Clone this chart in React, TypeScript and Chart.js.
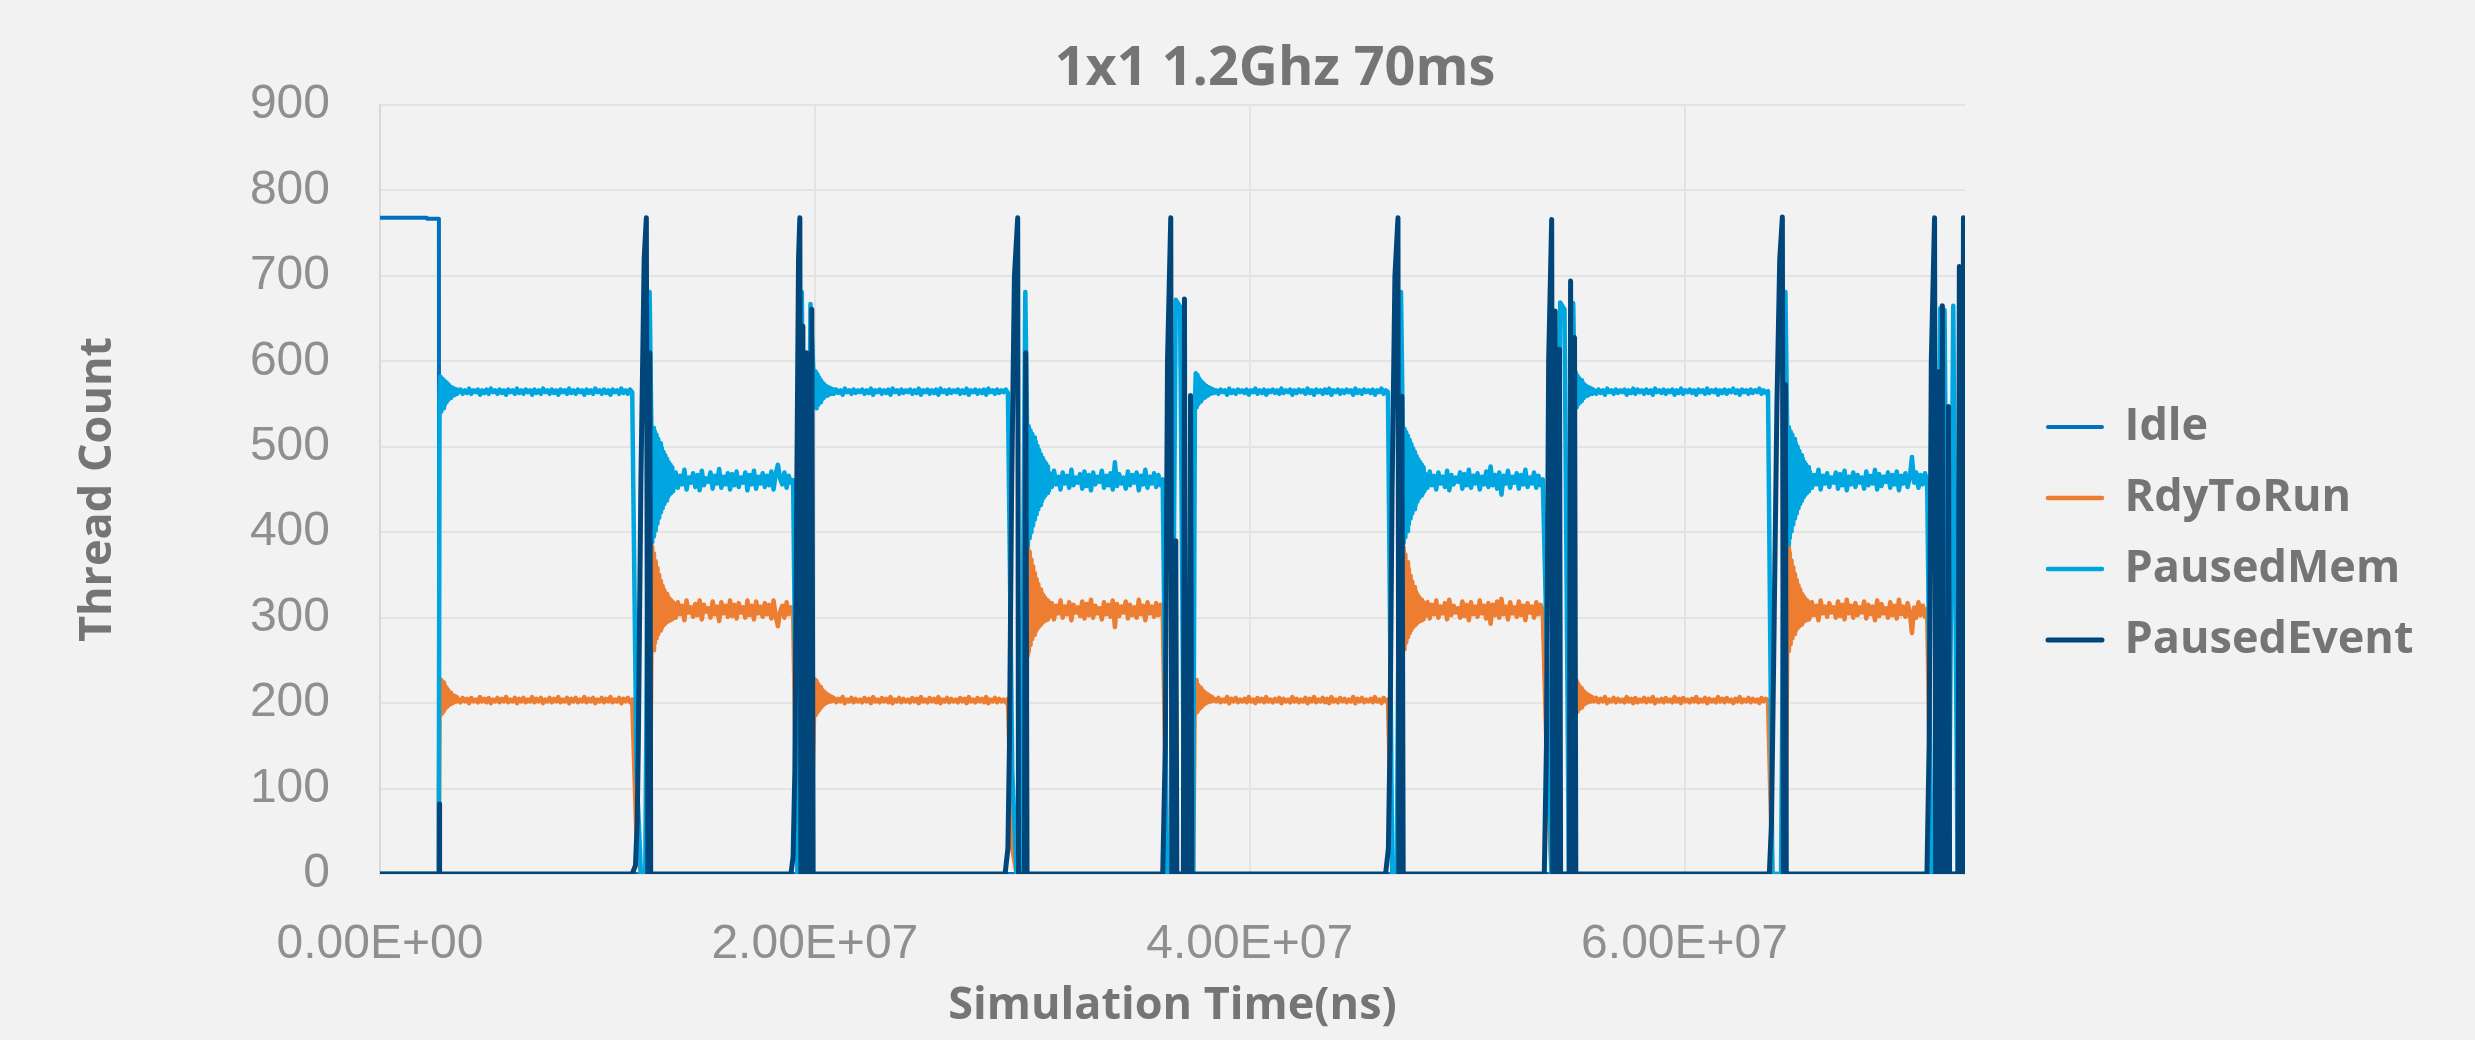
import React, { useEffect, useRef } from 'react';
import { Chart, registerables } from 'chart.js';

Chart.register(...registerables);

// ---------- text ----------
const CHART_TITLE = '1x1 1.2Ghz 70ms';
const X_TITLE = 'Simulation Time(ns)';
const Y_TITLE = 'Thread Count';
const SERIES_NAMES = ['Idle', 'RdyToRun', 'PausedMem', 'PausedEvent'];
const SERIES_COLORS = ['#0070C0', '#ED7D31', '#00A6DF', '#00467A'];

// ---------- axes ----------
const X_TICK_VALUES = [0, 2e7, 4e7, 6e7];
const X_TICK_LABELS = ['0.00E+00', '2.00E+07', '4.00E+07', '6.00E+07'];
const X_MAX_NS = 7.29e7;
const Y_MIN = 0;
const Y_MAX = 900;
const Y_STEP = 100;

// ---------- data ----------
// Sampled segments: [start time (ms), sample step (ms), values]
type Segment = [number, number, number[]];

const pausedMemSegments: Segment[] = [
  [0, 0.2, [0, 0, 0, 0, 0, 0, 0, 0, 0, 0, 0, 0, 0, 0]],
  [2.7, 0.04, [0, 560, 582, 541, 580, 545, 578, 549, 576, 552, 574, 555, 572, 557, 570, 559, 569, 560, 568, 561, 567, 562]],
  [3.6, 0.1, [
    564, 567, 562, 566, 563, 568, 562, 566, 564, 567,
    561, 566, 563, 567, 562, 568, 564, 566, 562, 567,
    563, 566, 561, 567, 564, 566, 562, 568, 563, 566,
    562, 567, 564, 566, 561, 567, 563, 566, 562, 568,
    564, 566, 562, 567, 563, 566, 561, 567, 564, 566,
    562, 568, 563, 566, 562, 567, 564, 566, 561, 567,
    563, 566, 562, 568, 564, 566, 562, 567, 563, 566,
    561, 567, 564, 566, 562, 568, 563, 566, 562, 567,
    564]],
  [11.8, 0.2, [120, 0, 0, 681]],
  [12.48, 0.04, [525, 388, 522, 395, 518, 402, 514, 410, 509, 417, 504, 423, 499, 428, 494, 433, 490, 437, 486, 441, 482, 444, 479, 446, 476, 448]],
  [13.6, 0.1, [
    470, 452, 466, 456, 473, 450, 464, 458, 469, 453,
    467, 449, 472, 455, 463, 459, 470, 451, 466, 457,
    474, 452, 465, 456, 469, 450, 468, 455, 471, 453,
    464, 458, 470, 449, 467, 456, 472, 451, 465, 457,
    469, 453, 466, 455, 471, 450, 468, 479, 463, 456,
    470, 452, 466, 458, 461]],
  [19.2, 0.2, [0, 681, 0, 667]],
  [20.0, 0.04, [548, 588, 545, 585, 549, 581, 552, 578, 555, 575, 557, 573, 559, 571, 560, 570, 561, 569, 562, 568, 562, 567]],
  [20.88, 0.1, [
    562, 567, 563, 566, 561, 568, 564, 566, 562, 567,
    563, 566, 564, 567, 562, 566, 563, 568, 561, 566,
    564, 567, 562, 566, 563, 567, 561, 568, 564, 566,
    562, 567, 563, 566, 564, 567, 562, 566, 563, 568,
    561, 566, 564, 567, 562, 566, 563, 567, 561, 568,
    564, 566, 562, 567, 563, 566, 564, 567, 562, 566,
    563, 568, 561, 566, 564, 567, 562, 566, 563, 567,
    561, 568, 564, 566, 562, 567, 563, 566, 564, 567,
    563]],
  [29.08, 0.2, [120, 0, 0, 681]],
  [29.76, 0.04, [522, 385, 524, 393, 519, 400, 515, 408, 511, 415, 506, 421, 501, 427, 496, 432, 491, 436, 487, 440, 483, 443, 480, 446, 477, 448]],
  [30.8, 0.1, [
    469, 453, 472, 456, 465, 450, 470, 457, 466, 452,
    473, 455, 464, 458, 468, 451, 471, 454, 467, 449,
    470, 456, 465, 459, 472, 452, 466, 455, 469, 450,
    482, 454, 468, 457, 464, 451, 471, 455, 467, 458,
    470, 449, 466, 456, 473, 452, 465, 457, 469, 453,
    467, 455, 462]],
  [36.2, 0.2, [0, 0, 672, 664, 0, 0, 0]],
  [37.48, 0.04, [550, 586, 546, 584, 550, 580, 553, 577, 555, 575, 557, 573, 558, 571, 560, 570, 561, 569, 562, 568, 563, 567]],
  [38.36, 0.1, [
    563, 566, 562, 567, 564, 566, 561, 568, 563, 566,
    562, 567, 564, 566, 563, 567, 561, 566, 564, 568,
    562, 566, 563, 567, 561, 566, 564, 567, 563, 566,
    562, 568, 563, 566, 564, 567, 561, 566, 563, 567,
    564, 566, 562, 568, 563, 566, 561, 567, 564, 566,
    562, 567, 563, 568, 561, 566, 564, 567, 562, 566,
    563, 567, 564, 566, 561, 568, 563, 566, 562, 567,
    564, 566, 563, 567, 561, 566, 564, 568, 562, 566,
    564]],
  [46.56, 0.2, [0, 0, 681]],
  [47.04, 0.04, [524, 387, 521, 394, 517, 401, 513, 409, 508, 416, 503, 422, 498, 427, 494, 432, 489, 436, 485, 440, 482, 443, 479, 445, 476, 448]],
  [48.08, 0.1, [
    468, 452, 471, 455, 466, 450, 470, 457, 465, 453,
    472, 449, 467, 456, 464, 459, 470, 451, 468, 455,
    473, 452, 466, 457, 469, 450, 465, 456, 471, 453,
    477, 455, 467, 451, 470, 444, 466, 457, 472, 452,
    465, 458, 469, 451, 467, 456, 473, 453, 464, 457,
    470, 452, 466, 455, 462]],
  [53.68, 0.2, [250, 0, 0, 669, 661, 0, 668]],
  [54.96, 0.04, [547, 587, 546, 583, 550, 580, 552, 578, 554, 575, 557, 573, 559, 571, 560, 570, 561, 569, 562, 568, 562, 567]],
  [55.84, 0.1, [
    566, 562, 567, 563, 566, 561, 568, 564, 566, 562,
    567, 563, 566, 564, 567, 561, 566, 563, 568, 562,
    567, 564, 566, 562, 567, 563, 566, 561, 568, 564,
    566, 563, 567, 562, 566, 564, 567, 561, 566, 563,
    568, 562, 566, 564, 567, 563, 566, 561, 567, 564,
    566, 562, 568, 563, 566, 564, 567, 561, 566, 563,
    567, 562, 566, 564, 568, 563, 566, 561, 567, 564,
    566, 562, 567, 563, 566, 564, 568, 562, 566, 563,
    565]],
  [64.04, 0.2, [0, 0, 0, 681]],
  [64.72, 0.04, [523, 386, 523, 393, 518, 401, 514, 409, 509, 416, 504, 422, 500, 428, 495, 433, 490, 437, 486, 441, 482, 444, 479, 446, 476, 448]],
  [65.76, 0.1, [
    471, 452, 467, 456, 473, 450, 466, 457, 469, 453,
    464, 458, 470, 451, 468, 455, 472, 449, 465, 456,
    470, 453, 467, 458, 464, 451, 471, 455, 466, 457,
    473, 450, 468, 454, 465, 459, 470, 452, 467, 456,
    471, 449, 466, 457, 469, 453, 464, 488, 458, 470,
    452, 467, 456, 469, 460]],
  [71.36, 0.2, [0, 0, 662, 660, 0, 665, 0, 0, 0]],
];

const rdyToRunSegments: Segment[] = [
  [0, 0.2, [0, 0, 0, 0, 0, 0, 0, 0, 0, 0, 0, 0, 0, 0]],
  [2.7, 0.04, [0, 208, 186, 227, 188, 224, 191, 221, 194, 218, 196, 215, 198, 212, 199, 210, 200, 209, 201, 208, 202, 207]],
  [3.6, 0.1, [
    204, 201, 206, 202, 205, 200, 206, 202, 204, 201,
    207, 202, 205, 201, 206, 200, 204, 202, 206, 201,
    205, 202, 207, 201, 204, 202, 206, 200, 205, 202,
    206, 201, 204, 202, 207, 201, 205, 202, 206, 200,
    204, 202, 206, 201, 205, 202, 207, 201, 204, 202,
    206, 200, 205, 202, 206, 201, 204, 202, 207, 201,
    205, 202, 206, 200, 204, 202, 206, 201, 205, 202,
    207, 201, 204, 202, 206, 200, 205, 202, 206, 201,
    204]],
  [11.8, 0.2, [40, 0, 0, 0]],
  [12.48, 0.04, [254, 383, 262, 375, 270, 366, 276, 358, 281, 350, 285, 343, 288, 337, 291, 332, 293, 328, 295, 325, 296, 322, 297, 320, 298, 318]],
  [13.6, 0.1, [
    300, 318, 304, 314, 297, 320, 306, 312, 301, 316,
    303, 320, 298, 315, 307, 311, 300, 319, 304, 313,
    296, 318, 305, 314, 301, 320, 302, 315, 299, 317,
    306, 312, 300, 320, 303, 314, 298, 319, 305, 313,
    301, 317, 304, 315, 299, 320, 302, 290, 307, 314,
    300, 318, 304, 312, 309]],
  [19.2, 0.2, [0, 0, 0, 0]],
  [20.0, 0.04, [228, 186, 226, 189, 222, 192, 219, 195, 216, 197, 214, 199, 212, 200, 210, 201, 209, 202, 208, 202, 207, 203]],
  [20.88, 0.1, [
    206, 201, 205, 202, 207, 200, 204, 202, 206, 201,
    205, 202, 204, 201, 206, 202, 205, 200, 207, 202,
    204, 201, 206, 202, 205, 201, 207, 200, 204, 202,
    206, 201, 205, 202, 204, 201, 206, 202, 205, 200,
    207, 202, 204, 201, 206, 202, 205, 201, 207, 200,
    204, 202, 206, 201, 205, 202, 204, 201, 206, 202,
    205, 200, 207, 202, 204, 201, 206, 202, 205, 201,
    207, 200, 204, 202, 206, 201, 205, 202, 204, 201,
    205]],
  [29.08, 0.2, [30, 0, 0, 0]],
  [29.76, 0.04, [256, 385, 260, 377, 268, 368, 275, 360, 280, 352, 284, 345, 287, 339, 290, 333, 292, 329, 294, 326, 296, 323, 297, 320, 298, 318]],
  [30.8, 0.1, [
    301, 317, 298, 314, 305, 320, 300, 313, 304, 318,
    297, 315, 306, 312, 302, 319, 299, 316, 303, 321,
    300, 314, 305, 311, 298, 318, 304, 315, 301, 320,
    289, 316, 302, 313, 306, 319, 299, 315, 303, 312,
    300, 321, 304, 314, 297, 318, 305, 313, 301, 317,
    303, 315, 308]],
  [36.2, 0.2, [0, 0, 0, 0, 0, 0, 0]],
  [37.48, 0.04, [226, 188, 227, 190, 221, 193, 218, 195, 216, 197, 214, 199, 212, 200, 210, 201, 209, 202, 208, 202, 207, 203]],
  [38.36, 0.1, [
    205, 202, 206, 201, 204, 202, 207, 200, 205, 202,
    206, 201, 204, 202, 205, 201, 207, 202, 204, 200,
    206, 202, 205, 201, 207, 202, 204, 201, 205, 202,
    206, 200, 205, 202, 204, 201, 207, 202, 205, 201,
    204, 202, 206, 200, 205, 202, 207, 201, 204, 202,
    206, 201, 205, 200, 207, 202, 204, 201, 206, 202,
    205, 201, 204, 202, 207, 200, 205, 202, 206, 201,
    204, 202, 205, 201, 207, 202, 204, 200, 206, 202,
    204]],
  [46.56, 0.2, [0, 0, 0]],
  [47.04, 0.04, [255, 382, 263, 374, 271, 365, 277, 357, 282, 349, 286, 342, 289, 336, 291, 331, 293, 327, 295, 324, 296, 321, 297, 319, 298, 317]],
  [48.08, 0.1, [
    302, 318, 299, 315, 304, 320, 300, 313, 305, 317,
    298, 321, 303, 314, 306, 311, 300, 319, 302, 315,
    297, 318, 304, 313, 301, 320, 305, 314, 299, 317,
    293, 315, 303, 319, 300, 322, 304, 313, 298, 318,
    305, 312, 301, 319, 303, 314, 297, 317, 306, 313,
    300, 318, 304, 315, 308]],
  [53.68, 0.2, [120, 0, 0, 0, 0, 0, 0]],
  [54.96, 0.04, [227, 187, 226, 190, 222, 193, 219, 195, 217, 197, 214, 199, 212, 200, 210, 201, 209, 202, 208, 202, 207, 203]],
  [55.84, 0.1, [
    202, 206, 201, 205, 202, 207, 200, 204, 202, 206,
    201, 205, 202, 204, 201, 207, 202, 205, 200, 206,
    201, 204, 202, 206, 201, 205, 202, 207, 200, 204,
    202, 205, 201, 206, 202, 204, 201, 207, 202, 205,
    200, 206, 202, 204, 201, 205, 202, 207, 201, 204,
    202, 206, 200, 205, 202, 204, 201, 207, 202, 205,
    201, 206, 202, 204, 200, 205, 202, 207, 201, 204,
    202, 206, 201, 205, 202, 204, 200, 206, 202, 205,
    203]],
  [64.04, 0.2, [0, 0, 0, 0]],
  [64.72, 0.04, [257, 384, 261, 376, 269, 367, 276, 359, 281, 351, 285, 344, 288, 338, 290, 333, 292, 328, 294, 325, 296, 322, 297, 320, 298, 318]],
  [65.76, 0.1, [
    300, 318, 303, 314, 297, 320, 305, 313, 301, 317,
    306, 312, 300, 319, 302, 315, 298, 321, 305, 314,
    300, 317, 303, 312, 306, 319, 299, 315, 304, 313,
    297, 320, 302, 316, 305, 311, 300, 318, 303, 314,
    299, 321, 304, 313, 301, 317, 306, 282, 312, 300,
    318, 303, 314, 301, 310]],
  [71.36, 0.2, [0, 0, 0, 0, 0, 0, 0, 0, 0]],
];

const idleTimeMs = [0, 2.16, 2.17, 2.71, 2.72, 73.0];
const idleValues = [768, 768, 767, 767, 0, 0];

const pausedEventTimeMs = [
  0, 2.72, 2.73, 2.75,
  11.6, 11.75, 11.83, 11.88, 12.0, 12.15, 12.25, 12.32, 12.37, 12.41, 12.45,
  18.9, 19.0, 19.08, 19.17, 19.25, 19.31, 19.36, 19.41, 19.45, 19.5, 19.58, 19.63, 19.68, 19.81, 19.86, 19.92,
  28.75, 28.88, 28.95, 29.05, 29.18, 29.33, 29.37, 29.64, 29.7, 29.76,
  36.0, 36.12, 36.22, 36.37, 36.42, 36.55, 36.6, 36.65, 36.95, 37.0, 37.05, 37.22, 37.28, 37.34,
  46.25, 46.38, 46.45, 46.55, 46.68, 46.82, 46.86, 46.94, 47.0, 47.06,
  53.55, 53.65, 53.75, 53.89, 53.94, 54.0, 54.05, 54.1, 54.2, 54.25, 54.3, 54.7, 54.76, 54.82, 54.88, 54.94, 55.0,
  63.9, 64.0, 64.1, 64.25, 64.38, 64.5, 64.55, 64.6, 64.64, 64.68,
  71.15, 71.25, 71.35, 71.5, 71.55, 71.67, 71.72, 71.76, 71.82, 71.86, 71.9, 72.09, 72.14, 72.19, 72.58, 72.64, 72.69, 72.77, 72.83, 72.88, 73.0,
];
const pausedEventValues = [
  0, 0, 82, 0,
  0, 10, 60, 150, 460, 720, 768, 0, 0, 610, 0,
  0, 20, 120, 450, 720, 768, 0, 0, 641, 0, 0, 610, 0, 0, 661, 0,
  0, 30, 150, 450, 700, 768, 0, 0, 610, 0,
  0, 150, 600, 768, 0, 0, 390, 0, 0, 673, 0, 0, 560, 0,
  0, 30, 150, 450, 700, 768, 0, 0, 559, 0,
  0, 150, 600, 766, 0, 0, 659, 0, 0, 614, 0, 0, 694, 0, 0, 628, 0,
  0, 60, 250, 550, 720, 769, 0, 0, 573, 0,
  0, 150, 600, 768, 0, 0, 588, 0, 0, 665, 0, 0, 547, 0, 0, 711, 0, 0, 768, 0, 0,
];

// ---------- styling ----------
const FONT_BOLD = '"Open Sans", "Liberation Sans", sans-serif';
const FONT_TICK = '"Liberation Sans Narrow", "Liberation Sans", sans-serif';
const TEXT_COLOR = '#757575';
const TICK_COLOR = '#8F8F8F';
const GRID_COLOR = '#E3E3E3';
const BG_COLOR = '#F2F2F2';
const LEGEND_FONT_SIZE = 45;
const LEGEND_BOX_W = 54;
const LEGEND_PAD = 26;

const MS_TO_NS = 1e6;

function segmentPoints(segments: Segment[]) {
  const pts: { x: number; y: number }[] = [];
  segments.forEach(([start, step, vals]) => {
    vals.forEach((v, k) => pts.push({ x: (start + k * step) * MS_TO_NS, y: v }));
  });
  return pts;
}
function pairedPoints(times: number[], values: number[]) {
  return times.map((t, i) => ({ x: t * MS_TO_NS, y: values[i] }));
}

const titlePlugin = {
  id: 'customTitle',
  afterDraw(chart: any) {
    const ctx = chart.ctx;
    ctx.save();
    ctx.font = `bold 54px ${FONT_BOLD}`;
    ctx.fillStyle = TEXT_COLOR;
    ctx.textAlign = 'center';
    ctx.textBaseline = 'alphabetic';
    ctx.fillText(CHART_TITLE, 1275, 85);
    ctx.restore();
  },
};

export default function App() {
  const canvasRef = useRef<HTMLCanvasElement | null>(null);

  useEffect(() => {
    document.body.style.margin = '0';
    document.body.style.background = BG_COLOR;
    document.body.style.overflow = 'hidden';
    const canvas = canvasRef.current;
    if (!canvas) return;

    // legend width so that the legend starts at a fixed position
    const mctx = document.createElement('canvas').getContext('2d') as CanvasRenderingContext2D;
    mctx.font = `bold ${LEGEND_FONT_SIZE}px ${FONT_BOLD}`;
    const maxText = Math.max(...SERIES_NAMES.map((n) => mctx.measureText(n).width));
    const legendW = LEGEND_PAD + LEGEND_BOX_W + LEGEND_FONT_SIZE / 2 + maxText + 10;
    const legendLeft = 2048 - LEGEND_PAD;
    const padRight = Math.max(0, 2475 - legendLeft - legendW);

    const seriesData = [
      pairedPoints(idleTimeMs, idleValues),
      segmentPoints(rdyToRunSegments),
      segmentPoints(pausedMemSegments),
      pairedPoints(pausedEventTimeMs, pausedEventValues),
    ];
    const drawOrder = [4, 3, 2, 1];
    const widths = [4, 4.5, 4.5, 5];

    const chart = new Chart(canvas, {
      type: 'line',
      data: {
        datasets: SERIES_NAMES.map((name, i) => ({
          label: name,
          data: seriesData[i],
          borderColor: SERIES_COLORS[i],
          backgroundColor: SERIES_COLORS[i],
          borderWidth: widths[i],
          pointRadius: 0,
          tension: 0,
          borderJoinStyle: 'round',
          order: drawOrder[i],
          xAxisID: 'x',
          yAxisID: 'y',
        })),
      },
      options: {
        responsive: false,
        animation: false,
        devicePixelRatio: 1,
        layout: { padding: { top: 105, right: padRight, bottom: 0, left: 0 } },
        plugins: {
          title: { display: false },
          tooltip: { enabled: false },
          legend: {
            position: 'right',
            align: 'start',
            title: { display: true, text: '', padding: { top: 259, bottom: 0 }, font: { size: 12 } },
            labels: {
              boxWidth: LEGEND_BOX_W,
              boxHeight: 0,
              padding: LEGEND_PAD,
              color: TEXT_COLOR,
              font: { family: FONT_BOLD, size: LEGEND_FONT_SIZE, weight: 'bold' },
              sort: (a: any, b: any) => a.datasetIndex - b.datasetIndex,
            },
          },
        },
        scales: {
          x: {
            type: 'linear',
            position: 'bottom',
            min: 0,
            max: X_MAX_NS,
            afterFit: (s: any) => { s.height = 166; },
            afterBuildTicks: (s: any) => { s.ticks = X_TICK_VALUES.map((v) => ({ value: v })); },
            ticks: {
              autoSkip: false,
              maxRotation: 0,
              padding: 42,
              color: TICK_COLOR,
              font: { family: FONT_TICK, size: 48 },
              callback: (_v: any, idx: number) => X_TICK_LABELS[idx],
            },
            grid: { color: GRID_COLOR, lineWidth: 2, drawTicks: false },
            border: { display: false },
            title: {
              display: true,
              text: X_TITLE,
              color: TEXT_COLOR,
              font: { family: FONT_BOLD, size: 45, weight: 'bold' },
              padding: { top: 0, bottom: 7 },
            },
          },
          y: {
            type: 'linear',
            position: 'left',
            min: Y_MIN,
            max: Y_MAX,
            afterFit: (s: any) => { s.width = 380; },
            ticks: {
              stepSize: Y_STEP,
              padding: 50,
              color: TICK_COLOR,
              font: { family: FONT_TICK, size: 48 },
            },
            grid: { color: GRID_COLOR, lineWidth: 2, drawTicks: false },
            border: { display: true, color: '#D9D9D9', width: 2 },
            title: {
              display: true,
              text: Y_TITLE,
              color: TEXT_COLOR,
              font: { family: FONT_BOLD, size: 45, weight: 'bold' },
              padding: { top: 71, bottom: 0 },
            },
          },
          gap: {
            axis: 'y',
            type: 'linear',
            position: 'right',
            display: true,
            afterFit: (s: any) => { s.width = 57; },
            grid: { display: false, drawTicks: false },
            ticks: { display: false },
            border: { display: false },
            title: { display: false },
          },
        },
      } as any,
      plugins: [titlePlugin],
    });

    return () => chart.destroy();
  }, []);

  return (
    <div style={{ width: 2475, height: 1040, background: BG_COLOR }}>
      <canvas ref={canvasRef} width={2475} height={1040} style={{ display: 'block' }} />
    </div>
  );
}
